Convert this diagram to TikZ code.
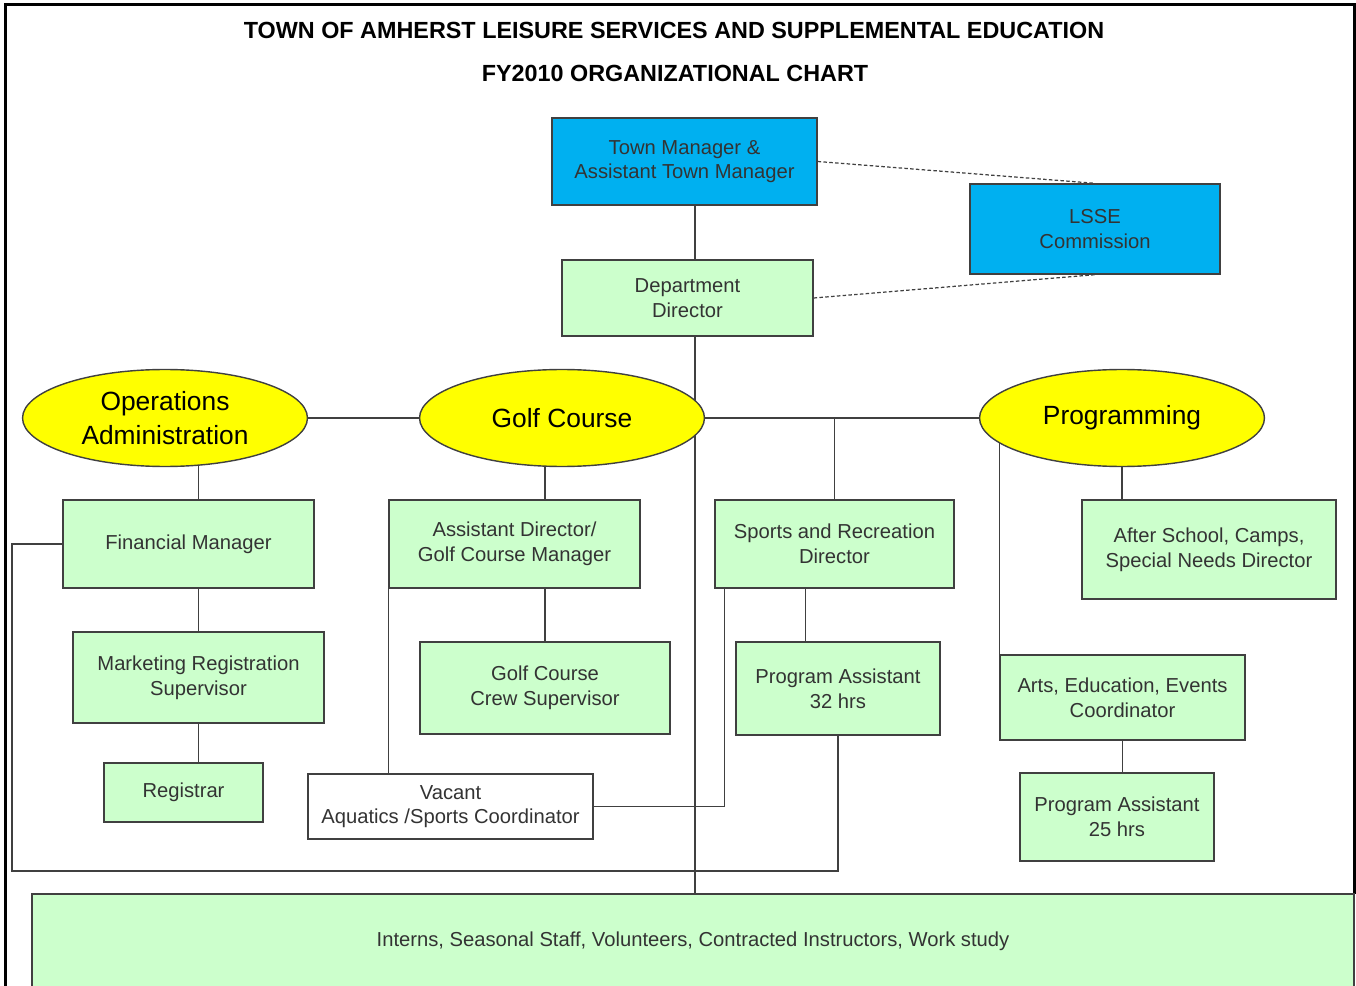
\documentclass[tikz,border=0pt]{standalone}
\usepackage{fontspec}
\setmainfont{Liberation Sans}
\usepackage{tikz}
\usetikzlibrary{positioning,shapes.geometric,backgrounds}

\definecolor{mgrblue}{RGB}{0,176,240}
\definecolor{staffgreen}{RGB}{204,255,204}
\definecolor{unityellow}{RGB}{255,255,0}
\definecolor{linegray}{RGB}{64,64,64}

\begin{document}
\begin{tikzpicture}[
    x=0.02cm, y=-0.02cm,
    box/.style={rectangle, draw=linegray, line width=0.8pt, fill=staffgreen, align=center, text=black!80, font=\fontsize{11.5}{14}\selectfont},
    bluebox/.style={box, fill=mgrblue},
    openbox/.style={box, fill=white},
    unit/.style={ellipse, draw=linegray, line width=0.8pt, fill=unityellow, align=center, inner sep=0pt, minimum width=5.7cm, minimum height=1.94cm, font=\fontsize{15}{19}\selectfont},
    title/.style={font=\bfseries\fontsize{13.3}{16}\selectfont},
    link/.style={draw=linegray, line width=0.7pt},
    advise/.style={link, dashed, dash pattern=on 2pt off 1.3pt}
]
    \useasboundingbox (0,0) rectangle (1356,986);

    % Frame
    \draw[line width=2pt] (5.5,990) -- (5.5,4.5) -- (1355,4.5) -- (1355,894);

    % Heading
    \node[title] (head) at (674,30) {TOWN OF AMHERST LEISURE SERVICES AND SUPPLEMENTAL EDUCATION};
    \node[title] (subhead) at (675,73) {FY2010 ORGANIZATIONAL CHART};

    % Top management
    \node[bluebox, minimum width=5.3cm, minimum height=1.74cm] (townmgr) at (684.5,161.5) {Town Manager \&\\Assistant Town Manager};
    \node[bluebox, minimum width=5cm, minimum height=1.8cm] (lsse) at (1095,229) {LSSE\\Commission};
    \node[box, minimum width=5.02cm, minimum height=1.52cm] (deptdir) at (687.5,298) {Department\\Director};

    % Divisions
    \node[unit] (opadm) at (165,418) {Operations\\Administration};
    \node[unit] (golf) at (562,418) {Golf Course};
    \node[unit] (prog) at (1122,418) {Programming};

    % Operations Administration
    \node[box, minimum width=5.02cm, minimum height=1.76cm] (finmgr) at (188.5,544) {Financial Manager};
    \node[box, minimum width=5.02cm, minimum height=1.82cm] (marketing) at (198.5,677.5) {Marketing Registration\\Supervisor};
    \node[box, minimum width=3.18cm, minimum height=1.18cm] (registrar) at (183.5,792.5) {Registrar};

    % Golf Course
    \node[box, minimum width=5.02cm, minimum height=1.76cm] (golfmgr) at (514.5,544) {Assistant Director/\\Golf Course Manager};
    \node[box, minimum width=5cm, minimum height=1.84cm] (crewsup) at (545,688) {Golf Course\\Crew Supervisor};
    \node[openbox, minimum width=5.7cm, minimum height=1.3cm] (vacant) at (450.5,806.5) {Vacant\\Aquatics /Sports Coordinator};

    % Programming
    \node[box, minimum width=4.78cm, minimum height=1.76cm] (sportsdir) at (834.5,544) {Sports and Recreation\\Director};
    \node[box, minimum width=4.08cm, minimum height=1.86cm] (progasst32) at (838,688.5) {Program Assistant\\32 hrs};
    \node[box, minimum width=5.08cm, minimum height=1.98cm] (afterschool) at (1209,549.5) {After School, Camps,\\Special Needs Director};
    \node[box, minimum width=4.9cm, minimum height=1.7cm] (arts) at (1122.5,697.5) {Arts, Education, Events\\Coordinator};
    \node[box, minimum width=3.88cm, minimum height=1.76cm] (progasst25) at (1117,817) {Program Assistant\\25 hrs};

    % Staff pool
    \node[box, minimum width=26.44cm, minimum height=1.88cm] (interns) at (693,941) {Interns, Seasonal Staff, Volunteers, Contracted Instructors, Work study};

    % Connectors
    \coordinate (trunk) at (695,894);
    \coordinate (loopcorner) at (12,871);
    \begin{scope}[on background layer]
        \draw[link] (trunk |- townmgr.south) -- (trunk);
        \draw[advise] (townmgr.east) -- (lsse.north);
        \draw[advise] (deptdir.east) -- (lsse.south);
        \draw[link] (opadm) -- (golf) -- (prog);
        \draw[link] (sportsdir.north) -- (sportsdir.north |- golf);
        \draw[link] (prog) -- (prog |- afterschool.north);
        \draw[link] (arts.north west |- prog) -- (arts.north west);
        \draw[link] (arts) -- (arts |- progasst25.north);
        \draw[link] (marketing |- opadm) -- (marketing |- registrar.north);
        \draw[link] (crewsup |- golf) -- (crewsup.north);
        \draw[link] (golfmgr.south west) -- (golfmgr.south west |- vacant.north);
        \draw[link] ([xshift=-0.58cm]sportsdir.south) -- ([xshift=-0.58cm]sportsdir.south |- progasst32.north);
        \draw[link] ([xshift=0.2cm]sportsdir.south west) |- (vacant.east);
        \draw[link] (progasst32.south) |- (loopcorner) |- (finmgr.west);
    \end{scope}
\end{tikzpicture}
\end{document}
